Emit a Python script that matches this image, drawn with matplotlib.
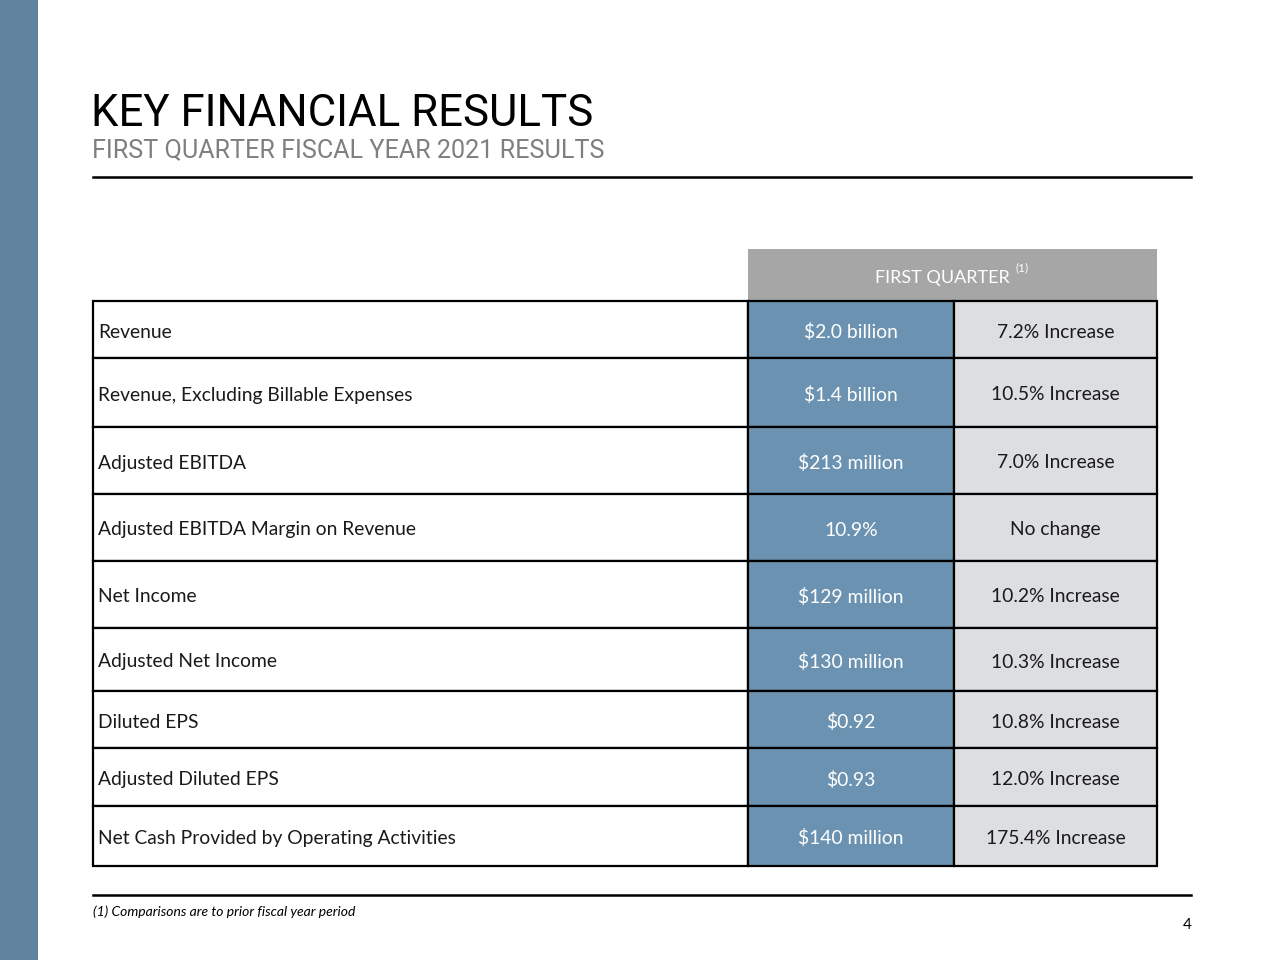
import matplotlib.pyplot as plt
from matplotlib.patches import Rectangle

# table contents
metrics = ['Revenue', 'Revenue, Excluding Billable Expenses', 'Adjusted EBITDA',
           'Adjusted EBITDA Margin on Revenue', 'Net Income', 'Adjusted Net Income',
           'Diluted EPS', 'Adjusted Diluted EPS', 'Net Cash Provided by Operating Activities']
values = ['$2.0 billion', '$1.4 billion', '$213 million', '10.9%', '$129 million',
          '$130 million', '$0.92', '$0.93', '$140 million']
changes = ['7.2% Increase', '10.5% Increase', '7.0% Increase', 'No change', '10.2% Increase',
           '10.3% Increase', '10.8% Increase', '12.0% Increase', '175.4% Increase']
row_edges = [301, 358, 427, 494, 561, 628, 691, 748, 806, 866]

side_col = '#5f829e'
blue_cell = '#6b93b1'
grey_cell = '#dcdee2'
head_col = '#a6a6a6'
body_font = ['Lato', 'DejaVu Sans']
title_font = ['Roboto', 'DejaVu Sans']

fig = plt.figure(figsize=(12.8, 9.6), dpi=100)
ax = fig.add_axes([0, 0, 1, 1])
ax.set_xlim(0, 1280)
ax.set_ylim(960, 0)
ax.axis('off')

# side bar
ax.add_patch(Rectangle((0, 0), 38, 960, color=side_col, lw=0))

# titles
ax.text(91, 126, 'KEY FINANCIAL RESULTS', fontsize=31.5, family=title_font, color='black', va='baseline')
ax.text(92, 157, 'FIRST QUARTER FISCAL YEAR 2021 RESULTS', fontsize=18.1, family=title_font,
        color='#7f7f7f', va='baseline')
ax.plot([93, 1191], [177, 177], color='black', lw=1.8)

# header
x0, x1, x2, x3 = 93, 748, 954, 1157
ax.add_patch(Rectangle((x1, 249), x3 - x1, row_edges[0] - 249, color=head_col, lw=0))
ax.text(942, 276, 'FIRST QUARTER', fontsize=13, family=body_font, color='white', ha='center',
        va='center_baseline')
ax.text(1015, 268, '(1)', fontsize=8.5, family=body_font, color='white', ha='left', va='center')

# rows
for i, (m, v, c) in enumerate(zip(metrics, values, changes)):
    top, bot = row_edges[i], row_edges[i + 1]
    mid = (top + bot) / 2 + 1
    ax.add_patch(Rectangle((x0, top), x1 - x0, bot - top, facecolor='white', edgecolor='black', lw=1.6))
    ax.add_patch(Rectangle((x1, top), x2 - x1, bot - top, facecolor=blue_cell, edgecolor='black', lw=1.6))
    ax.add_patch(Rectangle((x2, top), x3 - x2, bot - top, facecolor=grey_cell, edgecolor='black', lw=1.6))
    ax.text(98, mid, m, fontsize=13.9, family=body_font, color='#1a1a1a', va='center_baseline')
    ax.text((x1 + x2) / 2, mid, v, fontsize=13.9, family=body_font, color='white', ha='center',
            va='center_baseline')
    ax.text((x2 + x3) / 2, mid, c, fontsize=13.9, family=body_font, color='#1a1a1a', ha='center',
            va='center_baseline')

# footer
ax.plot([93, 1191], [895, 895], color='black', lw=1.8)
ax.text(93, 912, '(1) Comparisons are to prior fiscal year period', fontsize=10, family=body_font,
        style='italic', color='black', va='center')
ax.text(1187, 925, '4', fontsize=11, family=body_font, color='black', ha='center', va='center')

fig.savefig('out.png', dpi=100)
